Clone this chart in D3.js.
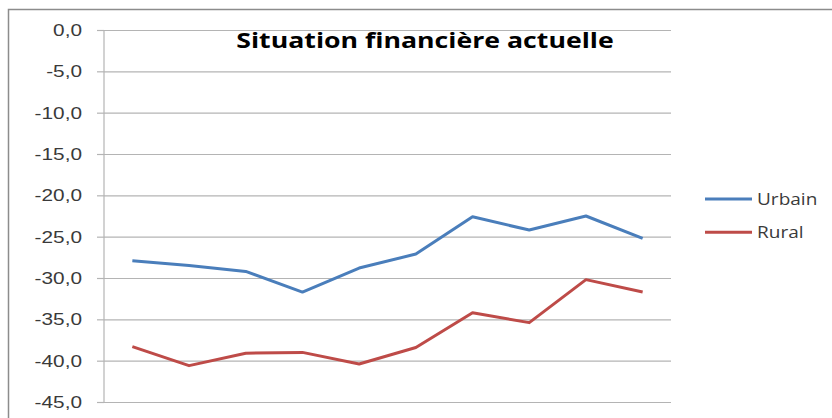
<!DOCTYPE html>
<html>
<head>
<meta charset="utf-8">
<script src="https://cdn.jsdelivr.net/npm/d3@7"></script>
<style>
  body { margin: 0; background: #fff; }
  svg { display: block; font-family: "Open Sans", sans-serif; }
  .yAxis .tick text { fill: #3a3a3a; font-size: 16px; }
  .legend text { fill: #3a3a3a; font-size: 17px; }
</style>
</head>
<body>
<svg id="chart" width="832" height="418"></svg>
<script>
const categories = ["1", "2", "3", "4", "5", "6", "7", "8", "9", "10"];
const urbain = [-27.9, -28.5, -29.2, -31.7, -28.8, -27.1, -22.6, -24.2, -22.5, -25.2];
const rural = [-38.3, -40.6, -39.1, -39.0, -40.4, -38.4, -34.2, -35.4, -30.2, -31.7];
const y_ticks = [0, -5, -10, -15, -20, -25, -30, -35, -40, -45];
const series = [
  {name: "Urbain", values: urbain, color: "#4a7ebb"},
  {name: "Rural", values: rural, color: "#be4b48"}
];

const svg = d3.select("#chart");
const margin = {left: 104, right: 161, top: 30, bottom: 16};
const width = 832, height = 418;
// the reference text is a bit stretched sideways
const stretch_tick = 1.3, stretch_title = 1.27, stretch_legend = 1.12;

// outer chart frame (right and bottom edges fall off the picture)
svg.append("rect")
  .attr("x", 8.5).attr("y", 9.5)
  .attr("width", 900).attr("height", 500)
  .attr("fill", "none")
  .attr("stroke", "#8c8c8c")
  .attr("stroke-width", 1.5);

const scale_x = d3.scaleBand()
  .domain(categories)
  .range([margin.left, width - margin.right]);
const scale_y = d3.scaleLinear()
  .domain([0, -45])
  .range([margin.top, height - margin.bottom]);

// grid + labels
svg.append("g")
  .attr("class", "yAxis")
  .attr("transform", `translate(${margin.left},0)`)
  .call(d3.axisLeft(scale_y)
    .tickValues(y_ticks)
    .tickSizeInner(-(width - margin.left - margin.right))
    .tickSizeOuter(0)
    .tickFormat(d => d3.format(".1f")(d).replace(".", ",").replace("−", "-")))
  .call(g => g.select(".domain").remove())
  .call(g => g.selectAll(".tick line").attr("stroke", "#b4b4b4").attr("stroke-width", 1.2))
  .call(g => g.selectAll(".tick")
    .append("line")
    .attr("x1", -7).attr("x2", 0)
    .attr("stroke", "#b4b4b4").attr("stroke-width", 1.2))
  .call(g => g.selectAll(".tick text")
    .attr("x", -22 / stretch_tick)
    .attr("dy", "0.35em")
    .attr("transform", `scale(${stretch_tick},1)`));

// vertical axis line
svg.append("line")
  .attr("x1", margin.left).attr("x2", margin.left)
  .attr("y1", scale_y(0)).attr("y2", scale_y(-45))
  .attr("stroke", "#b4b4b4").attr("stroke-width", 1.2);

const line = d3.line()
  .x((d, i) => scale_x(categories[i]) + scale_x.bandwidth() / 2)
  .y(d => scale_y(d));

svg.selectAll("path.serie")
  .data(series)
  .join("path")
  .attr("class", "serie")
  .attr("fill", "none")
  .attr("stroke", d => d.color)
  .attr("stroke-width", 3)
  .attr("stroke-linejoin", "round")
  .attr("d", d => line(d.values));

svg.append("text")
  .attr("transform", `scale(${stretch_title},1)`)
  .attr("x", 425 / stretch_title).attr("y", 48)
  .attr("text-anchor", "middle")
  .attr("font-weight", "bold")
  .attr("font-size", 21)
  .attr("fill", "#000")
  .text("Situation financière actuelle");

const legend = svg.append("g").attr("class", "legend")
  .selectAll("g")
  .data(series)
  .join("g")
  .attr("transform", (d, i) => `translate(705,${199 + i * 33.3})`);
legend.append("line")
  .attr("x1", 0).attr("x2", 47)
  .attr("stroke", d => d.color)
  .attr("stroke-width", 3);
legend.append("text")
  .attr("transform", `scale(${stretch_legend},1)`)
  .attr("x", 52 / stretch_legend).attr("dy", "0.35em")
  .text(d => d.name);
</script>
</body>
</html>
